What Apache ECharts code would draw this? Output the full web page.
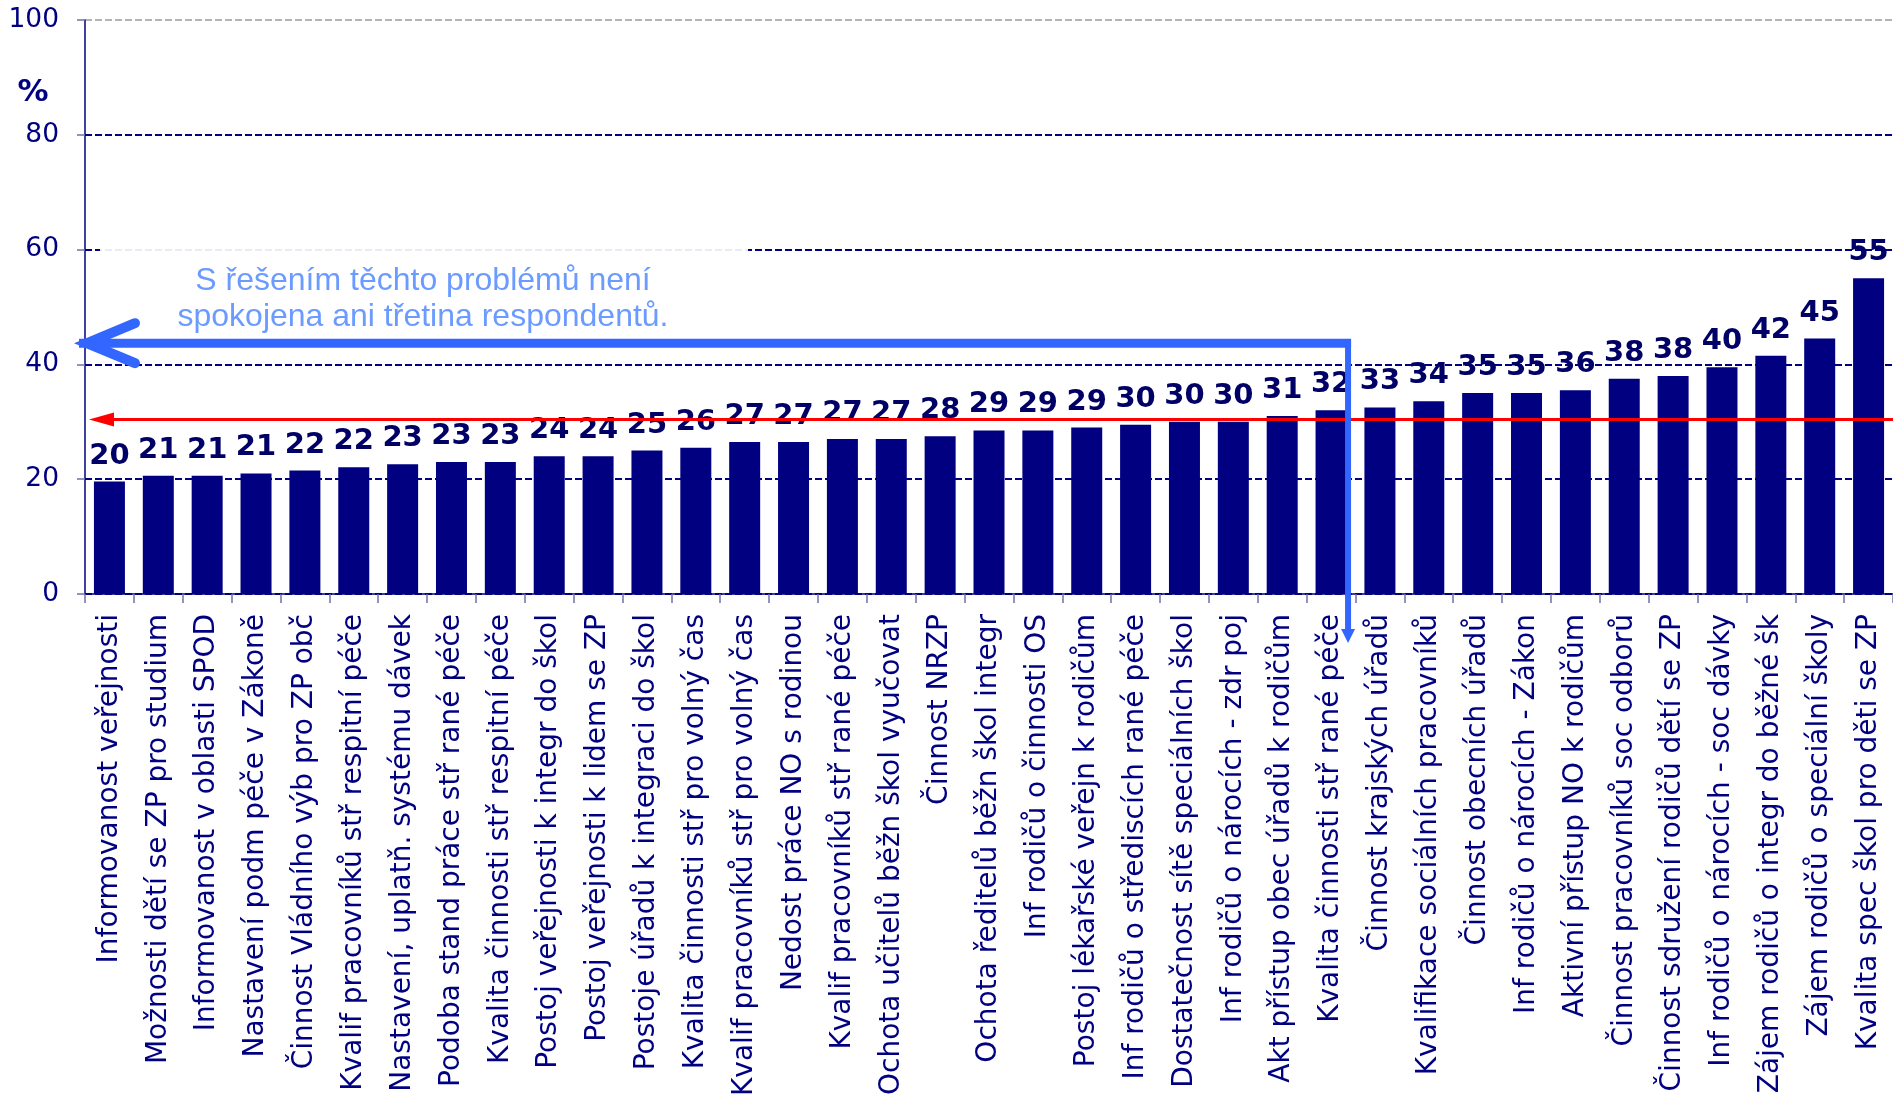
<!DOCTYPE html>
<html>
<head>
<meta charset="utf-8">
<script src="https://cdn.jsdelivr.net/npm/echarts@6/dist/echarts.min.js"></script>
<style>
html, body { margin: 0; padding: 0; background: #fff; }
#chart { width: 1893px; height: 1095px; }
</style>
</head>
<body>
<div id="chart"></div>
<script>
// data
var categories = [
    'Informovanost veřejnosti',
    'Možnosti dětí se ZP pro studium',
    'Informovanost v oblasti SPOD',
    'Nastavení podm péče v Zákoně',
    'Činnost Vládního výb pro ZP obč',
    'Kvalif pracovníků stř respitní péče',
    'Nastavení, uplatň. systému dávek',
    'Podoba stand práce stř rané péče',
    'Kvalita činnosti stř respitní péče',
    'Postoj veřejnosti k integr do škol',
    'Postoj veřejnosti k lidem se ZP',
    'Postoje úřadů k integraci do škol',
    'Kvalita činnosti stř pro volný čas',
    'Kvalif pracovníků stř pro volný čas',
    'Nedost práce NO s rodinou',
    'Kvalif pracovníků stř rané péče',
    'Ochota učitelů běžn škol vyučovat',
    'Činnost NRZP',
    'Ochota ředitelů běžn škol integr',
    'Inf rodičů o činnosti OS',
    'Postoj lékařské veřejn k rodičům',
    'Inf rodičů o střediscích rané péče',
    'Dostatečnost sítě speciálních škol',
    'Inf rodičů o nárocích - zdr poj',
    'Akt přístup obec úřadů k rodičům',
    'Kvalita činnosti stř rané péče',
    'Činnost krajských úřadů',
    'Kvalifikace sociálních pracovníků',
    'Činnost obecních úřadů',
    'Inf rodičů o nárocích - Zákon',
    'Aktivní přístup NO k rodičům',
    'Činnost pracovníků soc odborů',
    'Činnost sdružení rodičů dětí se ZP',
    'Inf rodičů o nárocích - soc dávky',
    'Zájem rodičů o integr do běžné šk',
    'Zájem rodičů o speciální školy',
    'Kvalita spec škol pro děti se ZP'
];
var values = [19.6, 20.6, 20.6, 21.0, 21.5, 22.1, 22.6, 23.0, 23.0, 24.0, 24.0, 25.0, 25.5,
    26.5, 26.5, 27.0, 27.0, 27.5, 28.5, 28.5, 29.0, 29.5, 30.0, 30.0, 31.0, 32.0,
    32.5, 33.6, 35.0, 35.0, 35.5, 37.5, 38.0, 39.5, 41.5, 44.5, 55.0];
var yMin = 0, yMax = 100, yStep = 20;
var average = 30.4;          // red line
var noteLevel = 43.7;        // blue arrow
var noteLastIndex = 25;      // last category of the note
var noteLines = ['S řešením těchto problémů není', 'spokojena ani třetina respondentů.'];

var navy = '#000080';
var myChart = echarts.init(document.getElementById('chart'));

var option = {
    animation: false,
    grid: { left: 85, right: 0, top: 20, bottom: 501, containLabel: false, outerBoundsMode: 'none' },
    xAxis: {
        type: 'category',
        data: categories,
        axisLine: { lineStyle: { color: navy, width: 1.5 } },
        axisTick: { show: true, length: 9, lineStyle: { color: '#7070a8', width: 1.5 } },
        axisLabel: {
            interval: 0,
            rotate: 90,
            margin: 20,
            color: navy,
            fontFamily: 'DejaVu Sans',
            fontSize: 28
        }
    },
    yAxis: {
        type: 'value',
        min: yMin,
        max: yMax,
        interval: yStep,
        axisLine: { show: true, lineStyle: { color: navy, width: 1.5 } },
        axisTick: { show: true, length: 8, lineStyle: { color: '#7070a8', width: 1.5 } },
        axisLabel: {
            margin: 26,
            color: navy,
            fontFamily: 'DejaVu Sans',
            fontSize: 26.5
        },
        splitLine: {
            lineStyle: {
                type: [7, 3],
                width: 2,
                color: [navy, navy, navy, navy, navy, '#b4b4b4']
            }
        }
    },
    series: [{
        type: 'bar',
        data: values,
        barWidth: 31,
        itemStyle: { color: navy },
        label: {
            show: true,
            position: 'top',
            distance: 11,
            color: '#000066',
            fontFamily: 'DejaVu Sans',
            fontWeight: 'bold',
            fontSize: 29,
            formatter: function (p) { return Math.round(p.value); }
        }
    }]
};
myChart.setOption(option);

// annotations placed from the axes
var p0 = myChart.convertToPixel({ seriesIndex: 0 }, [0, 0]);
var p1 = myChart.convertToPixel({ seriesIndex: 0 }, [1, 0]);
var band = p1[0] - p0[0];
var axisLeft = p0[0] - band / 2;
var axisY = p0[1];
var yAvg = myChart.convertToPixel({ yAxisIndex: 0 }, average);
var yNote = myChart.convertToPixel({ yAxisIndex: 0 }, noteLevel);
var y60 = myChart.convertToPixel({ yAxisIndex: 0 }, 60);
var xV = myChart.convertToPixel({ xAxisIndex: 0 }, noteLastIndex) + 17;
var tipX = axisLeft + 2;
var yDown = axisY + 49;
var blue = '#3366ff';
var noteFont = '32px "Liberation Sans"';

myChart.setOption({
    graphic: [
        { type: 'rect', z: 10, shape: { x: axisLeft + 15, y: y60 - 8, width: 748 - axisLeft - 15, height: 60 },
          style: { fill: 'rgba(255,255,255,0.92)' } },
        { type: 'text', z: 11, x: 423, y: yNote - 62, style: { text: noteLines[0], font: noteFont, fill: '#6b9bff', align: 'center', verticalAlign: 'middle' } },
        { type: 'text', z: 11, x: 423, y: yNote - 26, style: { text: noteLines[1], font: noteFont, fill: '#6b9bff', align: 'center', verticalAlign: 'middle' } },
        { type: 'text', z: 11, x: 33, y: 93, style: { text: '%', font: 'bold 31px "DejaVu Sans"', fill: navy, align: 'center', verticalAlign: 'middle' } },
        // red average line
        { type: 'polyline', z: 11, shape: { points: [[axisLeft + 25, yAvg], [1893, yAvg]] }, style: { stroke: '#ff0000', lineWidth: 3 } },
        { type: 'polygon', z: 11, shape: { points: [[axisLeft + 4, yAvg], [axisLeft + 29, yAvg - 7], [axisLeft + 29, yAvg + 7]] }, style: { fill: '#ff0000' } },
        // blue arrow
        { type: 'polyline', z: 12, shape: { points: [[tipX - 8, yNote], [xV + 3, yNote]] }, style: { stroke: blue, lineWidth: 9 } },
        { type: 'polyline', z: 12, shape: { points: [[tipX + 48, yNote - 20], [tipX, yNote], [tipX + 48, yNote + 20]] },
          style: { stroke: blue, lineWidth: 10, lineCap: 'round', lineJoin: 'miter' } },
        { type: 'polyline', z: 12, shape: { points: [[xV, yNote - 4], [xV, yDown - 12]] }, style: { stroke: blue, lineWidth: 6 } },
        { type: 'polygon', z: 12, shape: { points: [[xV - 7, yDown - 14], [xV + 7, yDown - 14], [xV, yDown]] }, style: { fill: blue } }
    ]
});
</script>
</body>
</html>
